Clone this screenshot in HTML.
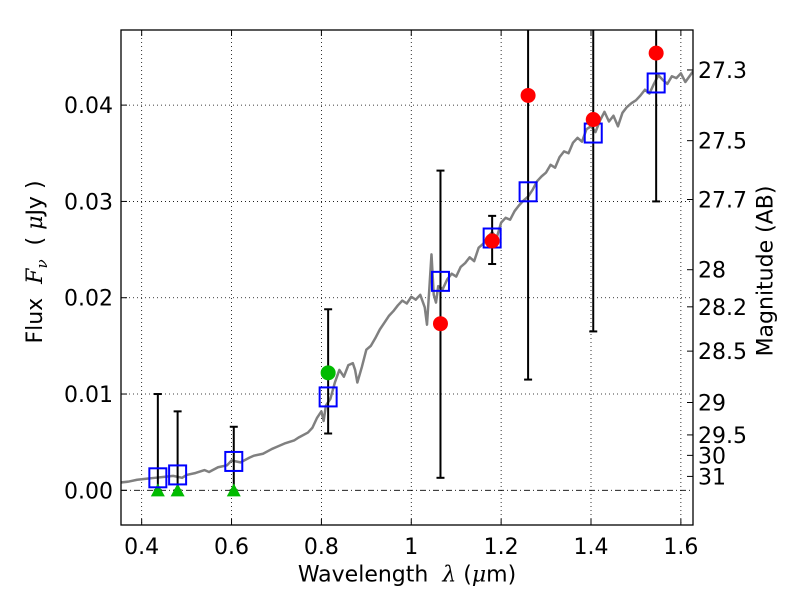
<!DOCTYPE html>
<html><head><meta charset="utf-8"><style>
html,body{margin:0;padding:0;background:#fff;}
svg{display:block;font-family:"DejaVu Sans","Liberation Sans",sans-serif;}
</style></head><body>
<svg id="chart" width="800" height="600" viewBox="0 0 800 600"></svg>
<script>
const xTicks=[0.4,0.6,0.8,1.0,1.2,1.4,1.6];
const xTickLabels=["0.4","0.6","0.8","1","1.2","1.4","1.6"];
const yTicks=[0,0.01,0.02,0.03,0.04];
const yTickLabels=["0.00","0.01","0.02","0.03","0.04"];
const magTicks=[27.3,27.5,27.7,28,28.2,28.5,29,29.5,30,31];
const magLabels=["27.3","27.5","27.7","28","28.2","28.5","29","29.5","30","31"];
const specX=[0.35,0.37,0.39,0.41,0.43,0.45,0.47,0.49,0.5,0.52,0.54,0.55,0.57,0.59,0.6,0.62,0.64,0.65,0.67,0.69,0.7,0.72,0.74,0.75,0.77,0.78,0.79,0.8,0.805,0.81,0.82,0.83,0.84,0.85,0.86,0.87,0.875,0.88,0.89,0.9,0.91,0.92,0.93,0.94,0.95,0.96,0.97,0.98,0.99,1.0,1.01,1.02,1.03,1.035,1.04,1.045,1.05,1.055,1.06,1.07,1.08,1.09,1.1,1.11,1.12,1.13,1.14,1.15,1.16,1.17,1.18,1.19,1.2,1.21,1.22,1.23,1.24,1.25,1.26,1.27,1.28,1.29,1.3,1.31,1.32,1.33,1.34,1.35,1.36,1.37,1.38,1.39,1.4,1.41,1.42,1.43,1.44,1.45,1.46,1.47,1.48,1.49,1.5,1.51,1.52,1.53,1.54,1.55,1.56,1.57,1.58,1.59,1.6,1.61,1.627];
const specY=[0.0008,0.0009,0.0011,0.0012,0.0013,0.0014,0.0015,0.0013,0.0016,0.0018,0.0021,0.0019,0.0024,0.0026,0.0031,0.0029,0.0034,0.0036,0.0038,0.0043,0.0045,0.0049,0.0052,0.0055,0.006,0.0065,0.0075,0.0082,0.0072,0.0088,0.0095,0.0112,0.0125,0.0118,0.013,0.0132,0.0125,0.0112,0.0128,0.0146,0.015,0.0158,0.0167,0.0174,0.0181,0.0186,0.0192,0.0197,0.0194,0.0201,0.0198,0.0203,0.019,0.0172,0.0208,0.0245,0.0203,0.0195,0.0212,0.0209,0.0219,0.0225,0.0222,0.0232,0.0236,0.0242,0.0238,0.0252,0.0256,0.0263,0.0268,0.0262,0.0278,0.0283,0.0281,0.029,0.0296,0.0301,0.0305,0.0312,0.0321,0.0326,0.033,0.0338,0.0335,0.0346,0.0352,0.035,0.0361,0.0366,0.0362,0.0375,0.0378,0.0372,0.0384,0.0393,0.0383,0.0389,0.0378,0.0392,0.0398,0.0402,0.0405,0.041,0.0416,0.0412,0.0422,0.0431,0.0426,0.0422,0.043,0.0428,0.0433,0.0424,0.0435];
const bandX=[0.436,0.48,0.605,0.815,1.065,1.18,1.26,1.405,1.545];
const modelY=[0.0013,0.0016,0.003,0.0097,0.0217,0.0262,0.031,0.0371,0.0423];
const errLo=[0,0,0,0.0059,0.0013,0.0235,0.0115,0.0165,0.030];
const errHi=[0.0100,0.0082,0.0066,0.0188,0.0332,0.0285,0.06,0.06,0.06];
const redX=[1.065,1.18,1.26,1.405,1.545];
const redY=[0.0173,0.0259,0.041,0.0385,0.0454];
const greenX=[0.815];
const greenY=[0.0122];
const triX=[0.436,0.48,0.605];
const triY=[0,0,0];

const L=121,R=693,T=30,B=525;
const xmin=0.354,xmax=1.627,ymin=-0.0036,ymax=0.0478;
const sx=v=>L+(v-xmin)/(xmax-xmin)*(R-L);
const sy=v=>B-(v-ymin)/(ymax-ymin)*(B-T);
const NS="http://www.w3.org/2000/svg";
const svg=document.getElementById('chart');
function mk(tag,attrs,parent){const e=document.createElementNS(NS,tag);for(const k in attrs)e.setAttribute(k,attrs[k]);(parent||svg).appendChild(e);return e;}

const clip=mk('clipPath',{id:'pc'});mk('rect',{x:L,y:T,width:R-L,height:B-T},clip);
const grid=mk('g',{});


xTicks.forEach(v=>{mk('line',{x1:sx(v),x2:sx(v),y1:T,y2:B,stroke:'#000','stroke-width':0.8,'stroke-dasharray':'1,3'},grid);});
yTicks.forEach(v=>{if(v!==0)mk('line',{x1:L,x2:R,y1:sy(v),y2:sy(v),stroke:'#000','stroke-width':0.8,'stroke-dasharray':'1,3'},grid);});
const zl=mk('line',{x1:L,x2:R,y1:sy(0),y2:sy(0),stroke:'#000','stroke-width':0.8,'stroke-dasharray':'6,3,1,3'});



const g=mk('g',{'clip-path':'url(#pc)'});
const sp=mk('polyline',{points:specX.map((x,i)=>sx(x)+','+sy(specY[i])).join(' '),fill:'none',stroke:'#808080','stroke-width':2.5,'stroke-linejoin':'round'},g);


bandX.forEach((x,i)=>{
  const eb=mk('g',{},g);
  
  
  const X=sx(x);
  mk('line',{x1:X,x2:X,y1:sy(errLo[i]),y2:sy(errHi[i]),stroke:'#000','stroke-width':2},eb);
  [errLo[i],errHi[i]].forEach(v=>mk('line',{x1:X-4,x2:X+4,y1:sy(v),y2:sy(v),stroke:'#000','stroke-width':2},eb));
});
triX.forEach((x,i)=>{const X=sx(x),Y=sy(triY[i]);
  const t=mk('polygon',{points:`${X-7},${Y+6} ${X+7},${Y+6} ${X},${Y-7}`,fill:'#00bb00'},g);
  
  });
bandX.forEach((x,i)=>{
  const r=mk('rect',{x:sx(x)-8.5,y:sy(modelY[i])-9.5,width:17,height:19,fill:'none',stroke:'#0000ff','stroke-width':2},g);
  
  });
redX.forEach((x,i)=>{const c=mk('circle',{cx:sx(x),cy:sy(redY[i]),r:7.5,fill:'#ff0000'},g);
  
  });
greenX.forEach((x,i)=>{const c=mk('circle',{cx:sx(x),cy:sy(greenY[i]),r:7.5,fill:'#00bb00'},g);
  
  });

const fr=mk('rect',{x:L,y:T,width:R-L,height:B-T,fill:'none',stroke:'#000','stroke-width':1.3});



xTicks.forEach((v,i)=>{const X=sx(v);
  mk('line',{x1:X,x2:X,y1:B,y2:B-6,stroke:'#000'});mk('line',{x1:X,x2:X,y1:T,y2:T+6,stroke:'#000'});
  const t=mk('text',{x:X,y:B+29,'font-size':22,'text-anchor':'middle'});t.textContent=xTickLabels[i];
  
  });
yTicks.forEach((v,i)=>{const Y=sy(v);
  mk('line',{x1:L,x2:L+6,y1:Y,y2:Y,stroke:'#000'});
  const t=mk('text',{x:L-8,y:Y+8,'font-size':22,'text-anchor':'end'});t.textContent=yTickLabels[i];
  
  });
magTicks.forEach((m,i)=>{const Y=sy(Math.pow(10,(23.9-m)/2.5));
  mk('line',{x1:R,x2:R-6,y1:Y,y2:Y,stroke:'#000'});
  const t=mk('text',{x:R+5,y:Y+8,'font-size':22});t.textContent=magLabels[i];
  
  });
</script>
<div style="position:absolute;left:0;top:0;width:800px;height:600px;pointer-events:none;font-family:'DejaVu Sans','Liberation Sans',sans-serif;">
<div style="position:absolute;left:407px;top:575px;transform:translate(-50%,-50%);font-size:22px;white-space:nowrap;">Wavelength &nbsp;<i style="font-family:'DejaVu Serif',serif">λ</i> (<i style="font-family:'DejaVu Serif',serif">μ</i>m)</div>
<div style="position:absolute;left:37px;top:262px;font-size:22px;white-space:nowrap;transform:translate(-50%,-50%) rotate(-90deg);">Flux &nbsp;<i style="font-family:'DejaVu Serif',serif">F<sub style="font-size:15px">ν</sub></i> &nbsp;( <i style="font-family:'DejaVu Serif',serif">μ</i>Jy )</div>
<div style="position:absolute;left:766px;top:271px;font-size:22px;white-space:nowrap;transform:translate(-50%,-50%) rotate(-90deg);">Magnitude (AB)</div>
</div>
</body></html>
